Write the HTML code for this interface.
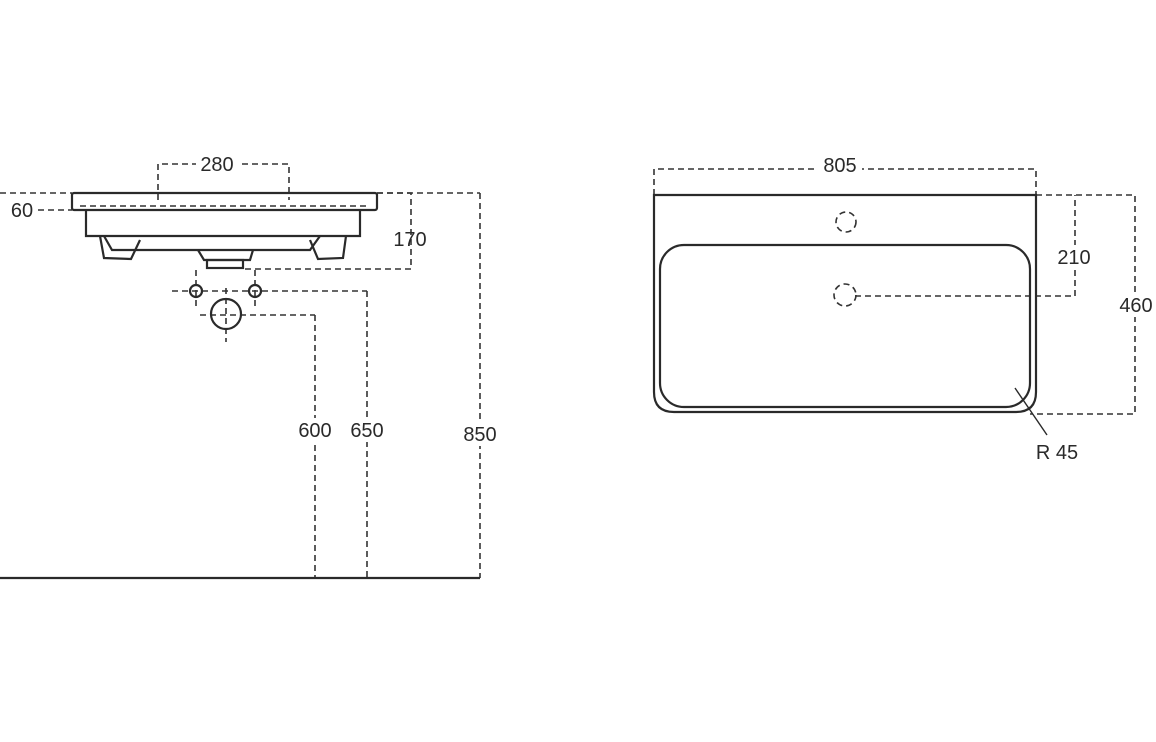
<!DOCTYPE html>
<html><head><style>
html,body{margin:0;padding:0;background:#fff;}
svg{display:block}
text{font-family:"Liberation Sans",sans-serif;font-size:20px;fill:#2a2a2a}
</style></head><body>
<svg width="1156" height="742" viewBox="0 0 1156 742" xmlns="http://www.w3.org/2000/svg">
<g fill="none" stroke="#333" stroke-width="1.6" stroke-dasharray="6,4">
<!-- left view dims -->
<polyline points="158,200 158,164 289,164 289,200"/>
<line x1="0" y1="193" x2="72" y2="193"/>
<line x1="377" y1="193" x2="480" y2="193"/>
<line x1="480" y1="193" x2="480" y2="578"/>
<line x1="38" y1="210" x2="72" y2="210"/>
<polyline points="377,193 411,193 411,269 245,269"/>
<line x1="172" y1="291" x2="367" y2="291"/>
<line x1="367" y1="291" x2="367" y2="578"/>
<line x1="200" y1="315" x2="315" y2="315"/>
<line x1="315" y1="315" x2="315" y2="578"/>
<line x1="196" y1="270" x2="196" y2="310"/>
<line x1="255" y1="270" x2="255" y2="310"/>
<line x1="226" y1="288" x2="226" y2="342"/>
<line x1="80" y1="206" x2="370" y2="206"/>
<!-- right view dims -->
<polyline points="654,195 654,169 1036,169 1036,195"/>
<polyline points="855,296 1075,296 1075,195"/>
<polyline points="1036,195 1135,195 1135,414 1030,414"/>
<circle cx="846" cy="222" r="10"/>
<circle cx="845" cy="295" r="11"/>
</g>
<g fill="none" stroke="#2a2a2a" stroke-width="2.2">
<rect x="72" y="193" width="305" height="17" rx="2"/>
<polyline points="86,210 86,236 360,236 360,210"/>
<polyline points="100,236 104,258 131,259 140,240"/>
<polyline points="104,236 112,250 310,250 320,236"/>
<polyline points="346,236 343,258 318,259 310,240"/>
<polyline points="198,250 204,260 250,260 253,250"/>
<rect x="207" y="260" width="36" height="8"/>
<circle cx="196" cy="291" r="6"/>
<circle cx="255" cy="291" r="6"/>
<circle cx="226" cy="314" r="15"/>
<line x1="0" y1="578" x2="480" y2="578"/>
<path d="M654,195 L1036,195 L1036,392 Q1036,412 1016,412 L674,412 Q654,412 654,392 Z"/>
<rect x="660" y="245" width="370" height="162" rx="24"/>
<line x1="1015" y1="388" x2="1047" y2="435" stroke-width="1.4"/>
</g>
<g text-anchor="middle" stroke="none">
<rect x="196" y="152" width="42" height="22" fill="#fff"/>
<text x="217" y="171">280</text>
<text x="22" y="217">60</text>
<text x="410" y="246">170</text>
<rect x="296" y="418" width="38" height="24" fill="#fff"/>
<text x="315" y="437">600</text>
<rect x="348" y="418" width="38" height="24" fill="#fff"/>
<text x="367" y="437">650</text>
<rect x="461" y="422" width="38" height="24" fill="#fff"/>
<text x="480" y="441">850</text>
<rect x="818" y="155" width="44" height="24" fill="#fff"/>
<text x="840" y="172">805</text>
<rect x="1054" y="245" width="40" height="24" fill="#fff"/>
<text x="1074" y="264">210</text>
<rect x="1116" y="293" width="40" height="24" fill="#fff"/>
<text x="1136" y="312">460</text>
<text x="1057" y="459">R 45</text>
</g>
</svg>
</body></html>
